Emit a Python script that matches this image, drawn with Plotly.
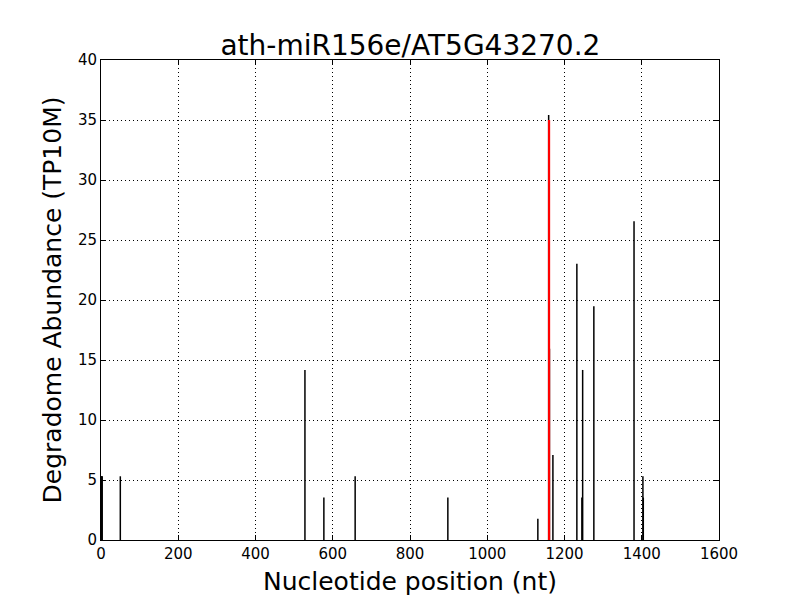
import plotly.graph_objects as go

# Data
positions = [1, 2, 3, 50, 528, 577, 658, 898, 1131, 1161, 1170, 1232, 1245, 1247, 1276, 1380, 1403, 1404]
abundances = [5.31, 5.31, 5.31, 5.31, 14.17, 3.54, 5.31, 3.54, 1.77, 15.94, 7.08, 23.02, 3.54, 14.17, 19.48, 26.56, 5.31, 3.54]
behind_pos = [1159]
behind_val = [35.42]
target_pos = [1160]
target_val = [35.0]

title_text = "ath-miR156e/AT5G43270.2"
x_label = "Nucleotide position (nt)"
y_label = "Degradome Abundance (TP10M)"


def stems(xs, ys):
    lx, ly = [], []
    for x, y in zip(xs, ys):
        lx += [x, x, None]
        ly += [0, y, None]
    return lx, ly


fig = go.Figure()
bx, by = stems(positions + behind_pos, abundances + behind_val)
fig.add_trace(go.Scatter(x=bx, y=by, mode="lines", line=dict(color="black", width=1.5),
                         hoverinfo="skip", showlegend=False))
rx, ry = stems(target_pos, target_val)
fig.add_trace(go.Scatter(x=rx, y=ry, mode="lines", line=dict(color="red", width=2.2),
                         hoverinfo="skip", showlegend=False))

axis_common = dict(
    showline=True, linecolor="black", linewidth=1, mirror="ticks",
    ticks="inside", ticklen=5, tickcolor="black", tickwidth=1,
    showgrid=True, gridcolor="black", griddash="1px,3px", gridwidth=1,
    zeroline=False, tickfont=dict(size=15, color="black"),
)

fig.update_layout(
    width=800, height=600,
    margin=dict(l=93, r=89, t=52, b=68),
    paper_bgcolor="white", plot_bgcolor="white",
    font=dict(family="DejaVu Sans", color="black"),
    title=dict(text=title_text, x=0.503, xanchor="center", y=0.938, yanchor="middle",
               font=dict(size=28, color="black")),
    xaxis=dict(range=[0, 1600], tickmode="linear", tick0=0, dtick=200,
               title=dict(text=x_label, font=dict(size=25), standoff=10), **axis_common),
    yaxis=dict(range=[0, 40], tickmode="linear", tick0=0, dtick=5,
               title=dict(text=y_label, font=dict(size=25), standoff=9), **axis_common),
)

fig.write_html("out.html")
